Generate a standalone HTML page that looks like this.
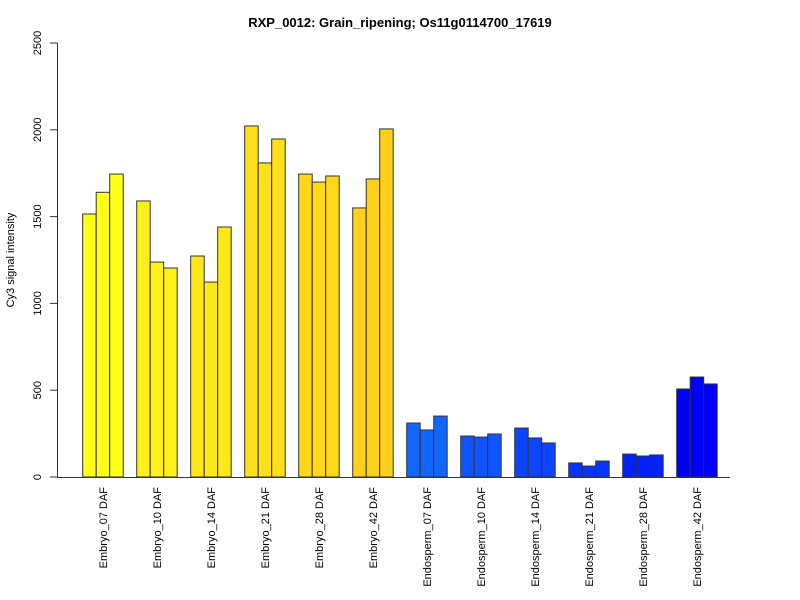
<!DOCTYPE html>
<html><head><meta charset="utf-8"><style>
body{margin:0;background:#fff;}
svg{display:block;font-family:"Liberation Sans",Arial,sans-serif;}
</style></head><body>
<svg id="chart" width="800" height="600">
<text x="400" y="27" text-anchor="middle" font-size="13" font-weight="bold">RXP_0012: Grain_ripening; Os11g0114700_17619</text>
<text transform="translate(14,260) rotate(-90)" text-anchor="middle" font-size="11">Cy3 signal intensity</text>
<g id="yaxis"></g>
<g id="bars"></g>
<g id="xlabels"></g>
<line x1="57" y1="477.5" x2="730" y2="477.5" stroke="#333"/>
</svg>
<script>
const categories=["Embryo_07 DAF","Embryo_10 DAF","Embryo_14 DAF","Embryo_21 DAF","Embryo_28 DAF","Embryo_42 DAF","Endosperm_07 DAF","Endosperm_10 DAF","Endosperm_14 DAF","Endosperm_21 DAF","Endosperm_28 DAF","Endosperm_42 DAF"];
const rep1=[1515,1590,1273,2022,1745,1550,311,236,282,81,132,507];
const rep2=[1640,1238,1123,1809,1699,1717,271,230,225,63,121,576];
const rep3=[1745,1204,1440,1947,1734,2005,351,248,196,92,127,536];
const yTicks=[0,500,1000,1500,2000,2500];
const colors=["#ffff1a","#fff01a","#ffe81a","#ffe01a","#ffd81a","#ffd01a","#1166ff","#0f55ff","#0c44ff","#0833ff","#0422ff","#0000ff"];
const NS="http://www.w3.org/2000/svg";
const y0=477,yTop=43,vmax=2500;
function yScale(v){return y0-(v/vmax)*(y0-yTop);}
const groupStart=82.7,groupStep=54,barW=13.5;
function xBar(g,r){return groupStart+g*groupStep+r*barW;}
const ya=document.getElementById('yaxis');
const al=document.createElementNS(NS,'line');


al.setAttribute('x1',57.5);al.setAttribute('x2',57.5);al.setAttribute('y1',yScale(0));al.setAttribute('y2',yScale(2500));al.setAttribute('stroke','#333');
ya.appendChild(al);
yTicks.forEach(t=>{
 const l=document.createElementNS(NS,'line');
 
 
 l.setAttribute('x1',50);l.setAttribute('x2',57.5);l.setAttribute('y1',yScale(t));l.setAttribute('y2',yScale(t));l.setAttribute('stroke','#333');
 ya.appendChild(l);
 const tx=document.createElementNS(NS,'text');
 
 
 tx.setAttribute('transform','translate(41,'+yScale(t)+') rotate(-90)');
 tx.setAttribute('text-anchor','middle');tx.setAttribute('font-size','11');
 tx.textContent=t;ya.appendChild(tx);
});
const bg=document.getElementById('bars');
const reps=[rep1,rep2,rep3];
categories.forEach((c,g)=>{
 reps.forEach((arr,r)=>{
  const b=document.createElementNS(NS,'rect');
  
  
  b.setAttribute('x',xBar(g,r));b.setAttribute('width',barW);
  b.setAttribute('y',yScale(arr[g]));b.setAttribute('height',y0-yScale(arr[g]));
  b.setAttribute('fill',colors[g]);b.setAttribute('stroke','#333');b.setAttribute('stroke-width','1');
  bg.appendChild(b);
 });
 const tx=document.createElementNS(NS,'text');
 
 
 const cx=xBar(g,0)+1.5*barW+4;
 tx.setAttribute('transform','translate('+cx+',487) rotate(-90)');
 tx.setAttribute('text-anchor','end');tx.setAttribute('font-size','11');
 tx.textContent=c;document.getElementById('xlabels').appendChild(tx);
});
</script>
</body></html>
